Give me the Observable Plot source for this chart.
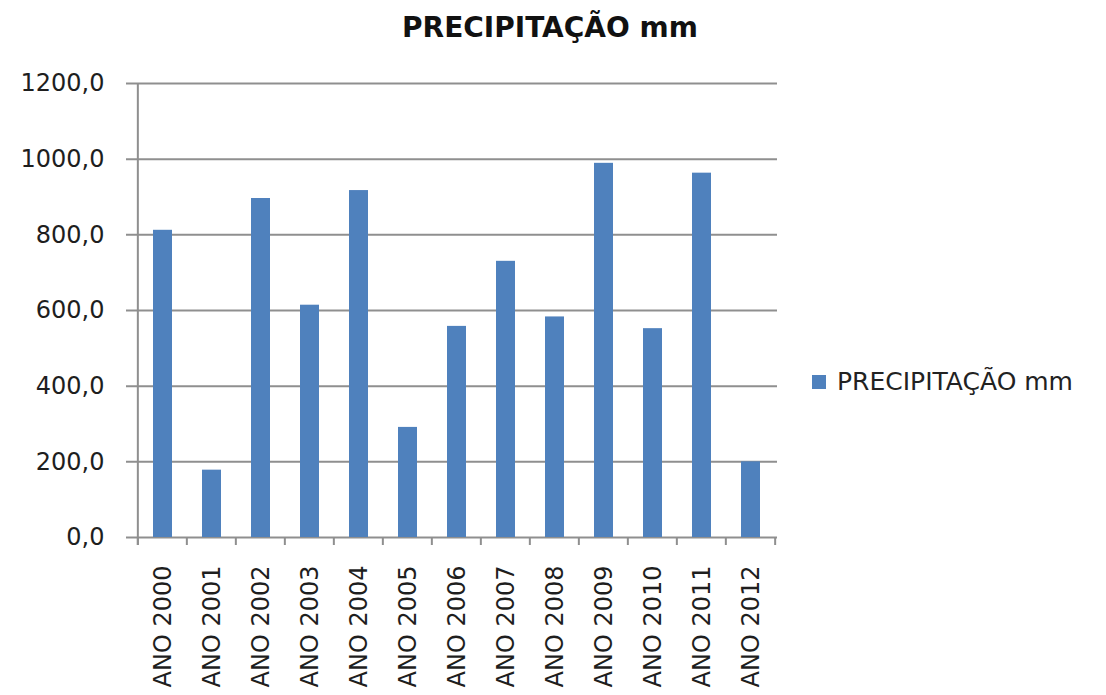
<!DOCTYPE html>
<html>
<head>
<meta charset="utf-8">
<script src="https://cdn.jsdelivr.net/npm/d3@7"></script>
<script src="https://cdn.jsdelivr.net/npm/@observablehq/plot@0.6"></script>
<style>
  body { margin: 0; background: #fff; }
  #wrap { position: relative; width: 1106px; height: 695px; overflow: hidden; background: #fff; }
  #title { position: absolute; left: 0; width: 1100px; top: 11px; text-align: center;
           font-family: "DejaVu Sans", sans-serif; font-weight: bold; font-size: 28px; color: #111; }
  #chart { position: absolute; left: 0; top: 0; }
  #legend { position: absolute; left: 812px; top: 367px; font-family: "DejaVu Sans", sans-serif;
            font-size: 25px; color: #222; display: flex; align-items: center; white-space: nowrap; }
  #legend .sw { width: 14px; height: 14px; background: #4f81bd; margin-right: 11px; }
</style>
</head>
<body>
<div id="wrap">
  <div id="chart"></div>
  <div id="title">PRECIPITAÇÃO mm</div>
  <div id="legend"><span class="sw"></span><span>PRECIPITAÇÃO mm</span></div>
</div>
<script>
const years = ["ANO 2000","ANO 2001","ANO 2002","ANO 2003","ANO 2004","ANO 2005","ANO 2006",
               "ANO 2007","ANO 2008","ANO 2009","ANO 2010","ANO 2011","ANO 2012"];
const precip = [812, 178, 896, 614, 917, 291, 558, 730, 583, 989, 552, 963, 200];
const yTicks = [0, 200, 400, 600, 800, 1000, 1200];

const data = years.map((y, i) => ({year: y, value: precip[i]}));
const fmt = d => d.toFixed(1).replace(".", ",");

const chart = Plot.plot({
  width: 1106,
  height: 695,
  marginLeft: 136,
  marginRight: 329,
  marginTop: 83,
  marginBottom: 158,
  style: {fontFamily: "DejaVu Sans, sans-serif", fontSize: "23px", color: "#1e1e1e", background: "transparent"},
  x: {domain: years, paddingInner: 0.62, paddingOuter: 0.31, label: null},
  y: {domain: [0, 1200], label: null},
  marks: [
    Plot.ruleY(yTicks, {stroke: "#8f8f8f", strokeWidth: 2, insetLeft: -10}),
    Plot.barY(data, {x: "year", y: "value", fill: "#4f81bd"}),
    Plot.axisY({ticks: yTicks, tickSize: 0, tickPadding: 32, tickFormat: fmt, fontSize: 24}),
    Plot.axisX({tickRotate: -90, tickSize: 0, tickPadding: 28, fontSize: 24})
  ]
});
document.getElementById("chart").appendChild(chart);

// category-boundary ticks and left axis line, positioned from Plot's own scales
const xs = chart.scale("x"), ys = chart.scale("y");
const n = xs.domain.length;
const step = (xs.range[1] - xs.range[0]) / n;
const y0 = ys.apply(0), yTop = ys.apply(1200);
const svg = d3.select(chart);
const g = svg.append("g").attr("stroke", "#8f8f8f").attr("stroke-width", 2);
const bounds = xs.domain.map(d => xs.apply(d) + xs.bandwidth / 2 - step / 2);
bounds.push(bounds[n - 1] + step);
bounds.forEach(b => g.append("line").attr("x1", b).attr("x2", b).attr("y1", y0).attr("y2", y0 + 8));
g.append("line").attr("x1", bounds[0]).attr("x2", bounds[0]).attr("y1", yTop).attr("y2", y0 + 8);
</script>
</body>
</html>
